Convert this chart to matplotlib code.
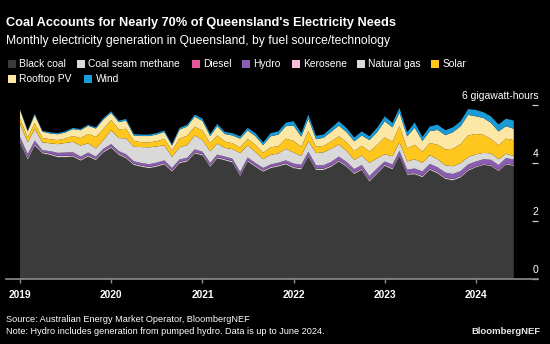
import matplotlib
matplotlib.use("Agg")
import matplotlib.pyplot as plt
import matplotlib.dates as mdates
import pandas as pd
from matplotlib.patches import Rectangle
from matplotlib.transforms import blended_transform_factory

plt.rcParams['font.family'] = ['Liberation Sans', 'DejaVu Sans']

# Monthly generation, Jan 2019 - Jun 2024 (gigawatt-hours as labelled)
months = pd.date_range('2019-01-01', periods=66, freq='MS')

black_coal = [4.72, 4.12, 4.60, 4.33, 4.28, 4.20, 4.20, 4.22, 4.08, 4.22, 4.10, 4.36,
              4.52, 4.28, 4.16, 3.93, 3.87, 3.82, 3.87, 3.95, 3.70, 3.99, 4.05, 4.33,
              4.26, 3.87, 4.16, 4.09, 4.02, 3.55, 4.05, 3.87, 3.70, 3.82, 3.88, 3.95,
              3.82, 3.78, 4.22, 3.76, 3.76, 3.87, 4.05, 3.87, 3.62, 3.76, 3.36, 3.62,
              3.90, 3.78, 4.24, 3.59, 3.61, 3.51, 3.76, 3.64, 3.45, 3.40, 3.50, 3.73,
              3.85, 3.93, 3.90, 3.72, 3.95, 3.90]
coal_seam_methane = [0.05, 0.05, 0.05, 0.04, 0.04, 0.04, 0.04, 0.04, 0.04, 0.04, 0.04, 0.04,
                     0.04, 0.04, 0.04, 0.04, 0.04, 0.04, 0.04, 0.04, 0.04, 0.04, 0.04, 0.04,
                     0.04, 0.04, 0.04, 0.04, 0.04, 0.04, 0.04, 0.04, 0.04, 0.04, 0.04, 0.04,
                     0.04, 0.04, 0.04, 0.04, 0.04, 0.04, 0.04, 0.04, 0.04, 0.04, 0.04, 0.04,
                     0.04, 0.04, 0.04, 0.04, 0.04, 0.04, 0.04, 0.04, 0.04, 0.04, 0.04, 0.04,
                     0.03, 0.03, 0.03, 0.03, 0.03, 0.03]
diesel = [0.01, 0.01, 0.01, 0.01, 0.01, 0.01, 0.01, 0.01, 0.01, 0.01, 0.01, 0.01,
          0.01, 0.01, 0.01, 0.01, 0.01, 0.01, 0.01, 0.01, 0.01, 0.01, 0.01, 0.01,
          0.01, 0.01, 0.01, 0.01, 0.01, 0.01, 0.01, 0.01, 0.01, 0.01, 0.01, 0.01,
          0.01, 0.01, 0.01, 0.01, 0.01, 0.01, 0.01, 0.01, 0.01, 0.01, 0.01, 0.01,
          0.01, 0.01, 0.01, 0.01, 0.01, 0.01, 0.01, 0.01, 0.01, 0.01, 0.01, 0.01,
          0.01, 0.01, 0.01, 0.01, 0.01, 0.01]
hydro = [0.12, 0.13, 0.11, 0.06, 0.08, 0.10, 0.11, 0.10, 0.09, 0.09, 0.07, 0.08,
         0.08, 0.08, 0.09, 0.08, 0.08, 0.09, 0.09, 0.09, 0.08, 0.08, 0.08, 0.09,
         0.08, 0.08, 0.08, 0.08, 0.08, 0.09, 0.09, 0.08, 0.08, 0.08, 0.08, 0.09,
         0.11, 0.11, 0.12, 0.11, 0.11, 0.12, 0.12, 0.12, 0.12, 0.12, 0.14, 0.14,
         0.10, 0.12, 0.13, 0.13, 0.15, 0.15, 0.16, 0.16, 0.17, 0.17, 0.17, 0.17,
         0.16, 0.16, 0.17, 0.17, 0.18, 0.18]
kerosene = [0.00, 0.00, 0.00, 0.00, 0.00, 0.00, 0.00, 0.00, 0.00, 0.00, 0.00, 0.00,
            0.00, 0.00, 0.00, 0.00, 0.00, 0.00, 0.00, 0.00, 0.00, 0.00, 0.00, 0.00,
            0.00, 0.00, 0.00, 0.00, 0.00, 0.00, 0.00, 0.00, 0.00, 0.00, 0.00, 0.00,
            0.00, 0.00, 0.00, 0.00, 0.00, 0.00, 0.00, 0.00, 0.00, 0.00, 0.00, 0.00,
            0.00, 0.00, 0.00, 0.00, 0.00, 0.00, 0.00, 0.00, 0.00, 0.00, 0.00, 0.00,
            0.00, 0.00, 0.00, 0.00, 0.00, 0.00]
natural_gas = [0.46, 0.40, 0.40, 0.27, 0.27, 0.30, 0.33, 0.36, 0.38, 0.32, 0.28, 0.30,
               0.48, 0.45, 0.55, 0.50, 0.55, 0.58, 0.56, 0.52, 0.38, 0.42, 0.44, 0.48,
               0.40, 0.40, 0.38, 0.30, 0.33, 0.65, 0.42, 0.38, 0.30, 0.33, 0.32, 0.40,
               0.38, 0.30, 0.36, 0.42, 0.45, 0.45, 0.42, 0.38, 0.32, 0.33, 0.45, 0.35,
               0.25, 0.28, 0.30, 0.28, 0.32, 0.30, 0.30, 0.28, 0.25, 0.27, 0.28, 0.25,
               0.25, 0.22, 0.22, 0.20, 0.15, 0.12]
solar = [0.17, 0.18, 0.20, 0.15, 0.14, 0.14, 0.15, 0.20, 0.26, 0.32, 0.40, 0.38,
         0.35, 0.30, 0.33, 0.20, 0.17, 0.17, 0.18, 0.22, 0.22, 0.30, 0.32, 0.30,
         0.33, 0.28, 0.28, 0.22, 0.20, 0.20, 0.22, 0.25, 0.22, 0.26, 0.25, 0.35,
         0.40, 0.32, 0.35, 0.22, 0.22, 0.25, 0.28, 0.30, 0.30, 0.33, 0.40, 0.45,
         0.58, 0.50, 0.55, 0.45, 0.50, 0.38, 0.42, 0.50, 0.55, 0.60, 0.65, 0.75,
         0.70, 0.62, 0.50, 0.48, 0.52, 0.55]
rooftop_pv = [0.30, 0.20, 0.29, 0.22, 0.20, 0.20, 0.21, 0.24, 0.27, 0.28, 0.29, 0.33,
              0.25, 0.25, 0.28, 0.19, 0.21, 0.22, 0.23, 0.24, 0.17, 0.31, 0.32, 0.35,
              0.33, 0.25, 0.32, 0.26, 0.27, 0.30, 0.29, 0.30, 0.27, 0.38, 0.40, 0.43,
              0.53, 0.35, 0.43, 0.26, 0.28, 0.34, 0.37, 0.35, 0.34, 0.36, 0.39, 0.45,
              0.56, 0.50, 0.47, 0.42, 0.59, 0.37, 0.41, 0.51, 0.49, 0.57, 0.62, 0.71,
              0.61, 0.58, 0.56, 0.48, 0.43, 0.39]
wind = [0.03, 0.03, 0.04, 0.03, 0.04, 0.04, 0.04, 0.04, 0.04, 0.04, 0.04, 0.05,
        0.05, 0.05, 0.06, 0.05, 0.05, 0.05, 0.05, 0.05, 0.05, 0.06, 0.06, 0.07,
        0.08, 0.07, 0.08, 0.07, 0.08, 0.08, 0.09, 0.10, 0.09, 0.11, 0.11, 0.12,
        0.15, 0.12, 0.14, 0.12, 0.11, 0.13, 0.15, 0.14, 0.13, 0.14, 0.13, 0.15,
        0.17, 0.15, 0.16, 0.14, 0.18, 0.14, 0.16, 0.18, 0.17, 0.17, 0.17, 0.20,
        0.22, 0.20, 0.22, 0.24, 0.26, 0.28]

series_names = ["Black coal", "Coal seam methane", "Diesel", "Hydro", "Kerosene",
                "Natural gas", "Solar", "Rooftop PV", "Wind"]
series_values = [black_coal, coal_seam_methane, diesel, hydro, kerosene,
                 natural_gas, solar, rooftop_pv, wind]
series_colors = ["#3b3b3b", "#d9d9d9", "#e5589a", "#8a5db3", "#f7bddb",
                 "#d9d9d9", "#ffc61e", "#fde7a4", "#1a9ad6"]

year_ticks = ["2019", "2020", "2021", "2022", "2023", "2024"]
y_ticks = [0, 2, 4, 6]
y_tick_labels = ["0", "2", "4", "6 gigawatt-hours"]

W, H = 550, 344
fig = plt.figure(figsize=(W / 100, H / 100), dpi=100, facecolor="black")


def fx(px):
    return px / W


def fy(py):
    return 1 - py / H


ax_left, ax_right, ax_bottom, ax_top = 6, 538, 279, 95
ax = fig.add_axes([fx(ax_left), fy(ax_bottom), (ax_right - ax_left) / W,
                   (ax_bottom - ax_top) / H])
ax.set_facecolor("black")

ax.stackplot(months, *series_values, colors=series_colors, linewidth=0)

start = mdates.date2num(months[0])
ax.set_xlim(start - 56, start + 2075)
ax.set_ylim(0, (ax_bottom - ax_top) / 29.0)

# x axis: yearly ticks
ax.set_xticks([mdates.date2num(pd.Timestamp(f"{y}-01-01")) for y in year_ticks])
ax.set_xticklabels(year_ticks, fontsize=7.4, fontweight="bold", color="white")
ax.tick_params(axis="x", direction="out", length=3, width=1, color="#8c8c8c", pad=5)

# y axis: short dashes on the right, labels above them
ax.yaxis.tick_right()
ax.set_yticks(y_ticks)
ax.tick_params(axis="y", direction="in", length=4.5, width=0.9, color="#cfcfcf",
               labelright=False, labelleft=False)
trans = blended_transform_factory(ax.transAxes, ax.transData)
for v, lab in zip(y_ticks, y_tick_labels):
    ax.annotate(lab, xy=(1.0, v), xycoords=trans, xytext=(0.5, 3.2),
                textcoords="offset points", ha="right", va="bottom",
                fontsize=7.5, color="white")

for side in ["top", "left", "right"]:
    ax.spines[side].set_visible(False)
ax.spines["bottom"].set_color("#8c8c8c")
ax.spines["bottom"].set_linewidth(1.2)
ax.spines["bottom"].set_zorder(5)

# titles
fig.text(fx(6), fy(23), "Coal Accounts for Nearly 70% of Queensland's Electricity Needs",
         fontsize=9.2, fontweight="bold", color="white", va="center", ha="left")
fig.text(fx(6), fy(41), "Monthly electricity generation in Queensland, by fuel source/technology",
         fontsize=8.7, color="white", va="center", ha="left")

# legend
leg_pos = [(7.7, 64), (77, 64), (191.6, 64), (242, 64), (292, 64), (357, 64), (431, 64),
           (7.7, 79), (84, 79)]
for (x, y), name, col in zip(leg_pos, series_names, series_colors):
    fig.patches.append(Rectangle((fx(x), fy(y + 4)), 8 / W, 8 / H,
                                 transform=fig.transFigure, facecolor=col,
                                 edgecolor="none"))
    fig.text(fx(x + 11.5), fy(y), name, fontsize=7.4, color="white",
             va="center", ha="left")

# footer
fig.text(fx(6), fy(320), "Source: Australian Energy Market Operator, BloombergNEF",
         fontsize=6.6, color="white", va="center", ha="left")
fig.text(fx(6), fy(332), "Note: Hydro includes generation from pumped hydro. Data is up to June 2024.",
         fontsize=6.6, color="white", va="center", ha="left")
fig.text(fx(541), fy(332), "BloombergNEF", fontsize=6.8, fontweight="bold",
         color="#e6e6e6", va="center", ha="right")

fig.savefig("out.png", dpi=100, facecolor="black")
